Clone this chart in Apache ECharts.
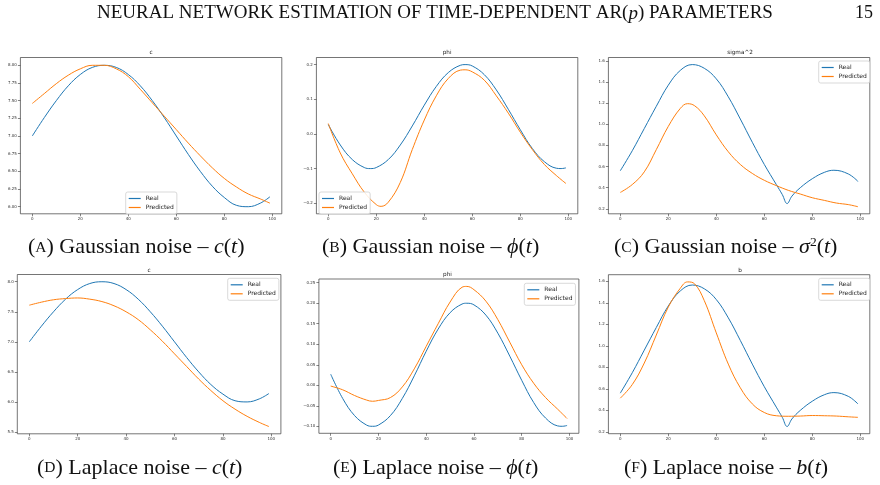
<!DOCTYPE html>
<html><head><meta charset="utf-8">
<script src="https://cdn.jsdelivr.net/npm/echarts@6/dist/echarts.min.js"></script>
<style>html,body{margin:0;padding:0;background:#fff}#chart{width:880px;height:485px}</style>
</head><body><div id="chart"></div>
<script>
// ---------- DATA ----------
const tStd = [0,5,10,15,20,25,30,35,40,45,50,55,60,65,70,75,80,85,90,95,99];
const cReal = [7.00,7.26,7.50,7.71,7.87,7.97,8.00,7.97,7.87,7.71,7.50,7.26,7.00,6.74,6.50,6.29,6.13,6.02,6.00,6.05,6.14];
const cPredGauss = [7.46,7.60,7.74,7.86,7.95,8.00,8.00,7.95,7.84,7.66,7.47,7.28,7.09,6.90,6.72,6.55,6.40,6.28,6.18,6.11,6.05];
const cPredLaplace = [7.61,7.66,7.70,7.72,7.73,7.71,7.67,7.60,7.50,7.37,7.20,7.01,6.80,6.59,6.38,6.19,6.02,5.88,5.76,5.66,5.59];
const tPhiReal = [0,5,10,15,17.5,20,25,30,35,40,45,50,55,57,60,65,70,75,80,85,90,95,97,99];
const phiReal = [0.027,-0.032,-0.074,-0.097,-0.100,-0.097,-0.074,-0.032,0.023,0.083,0.137,0.177,0.198,0.200,0.196,0.171,0.127,0.071,0.012,-0.042,-0.080,-0.099,-0.100,-0.098];
const tPhiPredGauss = [0,5,10,15,20,22,25,30,35,40,45,50,55,57,60,65,70,75,80,85,90,95,99];
const phiPredGauss = [0.030,-0.055,-0.115,-0.168,-0.204,-0.209,-0.197,-0.140,-0.045,0.040,0.110,0.160,0.184,0.185,0.179,0.155,0.110,0.060,0.005,-0.045,-0.088,-0.120,-0.143];
const tPhiPredLaplace = [0,5,10,15,17.5,20,25,30,35,40,45,50,55,57,60,65,70,75,80,85,90,95,99];
const phiPredLaplace = [-0.002,-0.011,-0.025,-0.036,-0.039,-0.037,-0.030,-0.004,0.040,0.095,0.150,0.203,0.239,0.241,0.233,0.205,0.160,0.105,0.050,0.005,-0.030,-0.058,-0.081];
const tSigReal = [0,5,10,15,20,25,30,35,40,45,50,55,60,65,67.5,69.5,71.5,75,80,85,89,95,99];
const sigReal = [0.56,0.75,0.96,1.17,1.37,1.51,1.565,1.53,1.43,1.26,1.05,0.83,0.62,0.43,0.335,0.25,0.32,0.40,0.485,0.545,0.565,0.53,0.46];
const tSigPred = [0,5,10,15,20,25,28,31,35,40,45,50,55,60,65,70,75,80,85,90,95,99];
const sigPredGauss = [0.355,0.43,0.55,0.76,0.98,1.15,1.195,1.175,1.08,0.90,0.74,0.62,0.535,0.47,0.42,0.375,0.34,0.305,0.28,0.255,0.24,0.22];
const bPredLaplace = [0.513,0.64,0.84,1.10,1.36,1.535,1.594,1.575,1.42,1.12,0.83,0.61,0.46,0.38,0.35,0.345,0.347,0.352,0.35,0.347,0.34,0.335];

const xTicks = [0,20,40,60,80,100];
const yTicksA = [6.00,6.25,6.50,6.75,7.00,7.25,7.50,7.75,8.00];
const yTicksB = [-0.2,-0.1,0.0,0.1,0.2];
const yTicksC = [0.2,0.4,0.6,0.8,1.0,1.2,1.4,1.6];
const yTicksD = [5.5,6.0,6.5,7.0,7.5,8.0];
const yTicksE = [-0.10,-0.05,0.00,0.05,0.10,0.15,0.20,0.25];
const yTicksF = [0.2,0.4,0.6,0.8,1.0,1.2,1.4,1.6];

const seriesNames = ['Real','Predicted'];
const subTitles = ['c','phi','sigma^2','c','phi','b'];
const headerText = 'NEURAL NETWORK ESTIMATION OF TIME-DEPENDENT AR(';
const headerTail = ') PARAMETERS';
const pageNumber = '15';
const captionLetters = ['A','B','C','D','E','F'];
const captionNoise = ['Gaussian','Gaussian','Gaussian','Laplace','Laplace','Laplace'];
const captionSym = ['c','ϕ','σ','c','ϕ','b'];

// ---------- LAYOUT ----------
const BLUE = '#1f77b4', ORANGE = '#ff7f0e';
const panels = [
  {g:{left:20.4,top:57.5,width:261.4,height:156.3}, y:[5.8995,8.1105], ticks:yTicksA, dec:2, real:[tStd,cReal], pred:[tStd,cPredGauss], leg:{left:125.7,top:192}, tc:[151.1,53], cap:[28,247.5]},
  {g:{left:316.4,top:57.5,width:261.4,height:156.3}, y:[-0.2305,0.2205], ticks:yTicksB, dec:1, real:[tPhiReal,phiReal], pred:[tPhiPredGauss,phiPredGauss], leg:{left:319,top:192}, tc:[447.1,53], cap:[322,247.5]},
  {g:{left:608.4,top:57.5,width:261.4,height:156.3}, y:[0.153,1.632], ticks:yTicksC, dec:1, real:[tSigReal,sigReal], pred:[tSigPred,sigPredGauss], leg:{left:818.7,top:61}, tc:[740,52.7], cap:[614,247.5]},
  {g:{left:17.3,top:274.5,width:263.6,height:159.3}, y:[5.4695,8.1205], ticks:yTicksD, dec:1, real:[tStd,cReal], pred:[tStd,cPredLaplace], leg:{left:227.7,top:278.3}, tc:[149.1,270.3], cap:[37,468]},
  {g:{left:318.9,top:279,width:260,height:154.3}, y:[-0.1171,0.2591], ticks:yTicksE, dec:2, real:[tPhiReal,phiReal], pred:[tPhiPredLaplace,phiPredLaplace], leg:{left:524.3,top:283.3}, tc:[447.5,275], cap:[333,468]},
  {g:{left:608.4,top:274.7,width:261.4,height:159}, y:[0.183,1.661], ticks:yTicksF, dec:1, real:[tSigReal,sigReal], pred:[tSigPred,bPredLaplace], leg:{left:818.7,top:278.3}, tc:[740,270.3], cap:[624,468]}
];

const zip = (xs, ys) => xs.map((x, i) => [x, ys[i]]);
const fmt = (v, d) => v.toFixed(d).replace('-', '\u2212');
const TICK_FONT = 'DejaVu Sans';

const option = {
  animation: false,
  backgroundColor: '#ffffff',
  grid: panels.map(p => Object.assign({show:true, borderColor:'#3a3a3a', borderWidth:0.7, backgroundColor:'transparent'}, p.g)),
  xAxis: panels.map((p, i) => ({
    type:'value', gridIndex:i, min:-4.95, max:103.95, position:'bottom',
    axisLine:{show:false, onZero:false}, splitLine:{show:false},
    axisTick:{show:true, customValues:xTicks, length:2.5, lineStyle:{color:'#333', width:0.6}},
    axisLabel:{customValues:xTicks, fontSize:4, color:'#333', fontFamily:TICK_FONT, margin:3.5, formatter:v => String(v)}
  })),
  yAxis: panels.map((p, i) => ({
    type:'value', gridIndex:i, min:p.y[0], max:p.y[1], position:'left',
    axisLine:{show:false, onZero:false}, splitLine:{show:false},
    axisTick:{show:true, customValues:p.ticks, length:2.5, lineStyle:{color:'#333', width:0.6}},
    axisLabel:{customValues:p.ticks, fontSize:4, color:'#333', fontFamily:TICK_FONT, margin:3.5, formatter:v => fmt(v, p.dec)}
  })),
  series: [].concat(...panels.map((p, i) => [
    {name:seriesNames[0], type:'line', xAxisIndex:i, yAxisIndex:i, data:zip(p.real[0], p.real[1]), smooth:0.4, symbol:'none', showSymbol:false, lineStyle:{color:BLUE, width:1}, itemStyle:{color:BLUE}},
    {name:seriesNames[1], type:'line', xAxisIndex:i, yAxisIndex:i, data:zip(p.pred[0], p.pred[1]), smooth:0.4, symbol:'none', showSymbol:false, lineStyle:{color:ORANGE, width:1}, itemStyle:{color:ORANGE}}
  ])),
  legend: panels.map(p => ({
    data:seriesNames.map(n => ({name:n, icon:'rect'})), orient:'vertical', left:p.leg.left, top:p.leg.top,
    itemWidth:12, itemHeight:1.2, itemGap:2, padding:[3,3,3,3],
    backgroundColor:'rgba(255,255,255,0.85)', borderColor:'#cfcfcf', borderWidth:0.8, borderRadius:2,
    textStyle:{fontSize:6, fontFamily:TICK_FONT, color:'#222', lineHeight:7},
    selectedMode:false
  })),
  title: []
};

// header and page number
const serif = 'Liberation Serif';
option.title.push({
  text:'{n|' + headerText + '}{i|p}{n|' + headerTail + '}', left:97, top:3, padding:0,
  textStyle:{rich:{n:{fontFamily:serif, fontWeight:'normal', fontSize:19, color:'#111', lineHeight:21}, i:{fontFamily:serif, fontWeight:'normal', fontStyle:'italic', fontSize:19, color:'#111', lineHeight:21}}}
});
option.title.push({
  text:pageNumber, left:855, top:3, padding:0,
  textStyle:{fontFamily:serif, fontSize:18, color:'#111', fontWeight:'normal', lineHeight:21}
});
// subplot titles
const subW = {'c':3.1,'phi':8.8,'sigma^2':25.6,'b':3.6};
panels.forEach((p, i) => {
  option.title.push({
    text:subTitles[i], left:p.tc[0] - subW[subTitles[i]] / 2, top:p.tc[1] - 3.5, padding:0,
    textStyle:{fontFamily:TICK_FONT, fontSize:5.7, color:'#222', fontWeight:'normal', lineHeight:7}
  });
});
// captions
const capRich = {
  n:{fontFamily:serif, fontWeight:'normal', fontSize:22, color:'#111', lineHeight:24},
  sc:{fontFamily:serif, fontWeight:'normal', fontSize:15.5, color:'#111', lineHeight:24},
  i:{fontFamily:serif, fontWeight:'normal', fontStyle:'italic', fontSize:22, color:'#111', lineHeight:24},
  sup:{fontFamily:serif, fontWeight:'normal', fontSize:13.5, color:'#111', lineHeight:16, verticalAlign:'top'}
};
panels.forEach((p, i) => {
  const sym = '{i|' + captionSym[i] + '}' + (captionSym[i] === 'σ' ? '{sup|2}' : '');
  option.title.push({
    text:'{n|(}{sc|' + captionLetters[i] + '}{n|) ' + captionNoise[i] + ' noise \u2013 }' + sym + '{n|(}{i|t}{n|)}',
    left:p.cap[0], top:p.cap[1] - 12, padding:0,
    textStyle:{fontWeight:'normal', rich:capRich}
  });
});

const chart = echarts.init(document.getElementById('chart'), null, {renderer:'canvas'});
chart.setOption(option);
</script>
</body></html>
